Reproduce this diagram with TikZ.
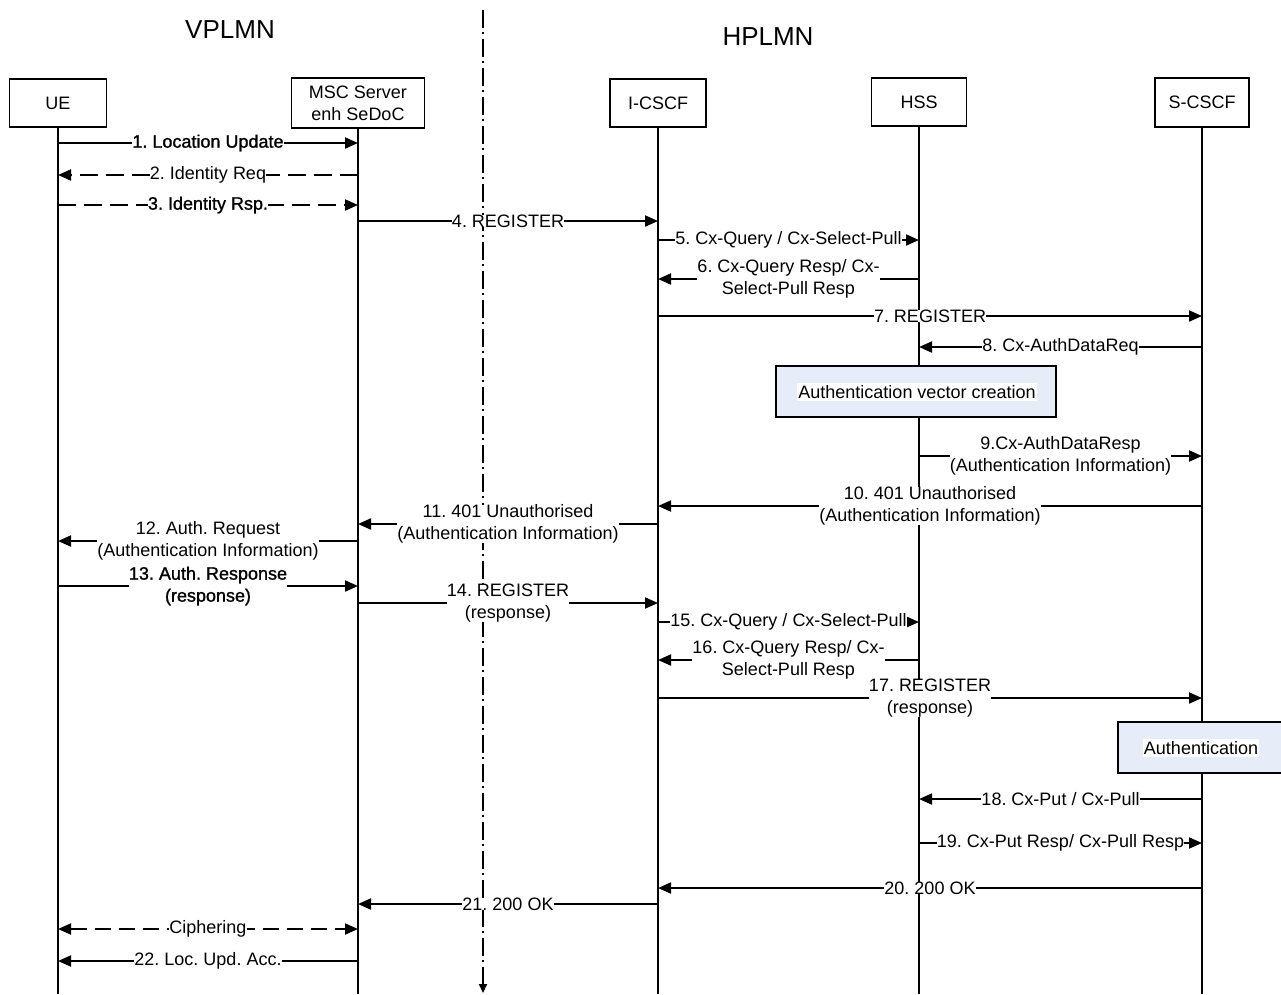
\documentclass[tikz,border=0pt]{standalone}
\usepackage{fontspec}
\setmainfont{Liberation Sans}
\newfontfamily\fbold[FakeBold=1.2]{Liberation Sans}
\usetikzlibrary{arrows.meta}
\definecolor{procfill}{RGB}{230,237,248}
\frenchspacing
\newcommand\Msg[7]{%
  \coordinate (#1s) at (#2 |- 0,#4);
  \coordinate (#1e) at (#3 |- 0,#4);
  \draw[#5] (#1s) -- node[#6] {#7} (#1e);
}
\begin{document}
\begin{tikzpicture}[x=1pt,y=-1pt,
  font=\fontsize{18}{22}\selectfont\frenchspacing,
  partbox/.style={draw, line width=1.8pt, inner sep=0pt, align=center},
  life/.style={line width=1.6pt},
  msgline/.style={line width=1.9pt, -{Triangle[length=13pt,width=11pt]}},
  dmsg/.style={msgline, dash pattern=on 18pt off 8pt},
  cmsg/.style={line width=1.9pt, dash pattern=on 16pt off 8pt,
     {Triangle[length=13pt,width=11pt]}-{Triangle[length=13pt,width=11pt]}},
  lbl/.style={fill=white, inner sep=0pt, align=center},
  blbl/.style={lbl, font=\fontsize{18}{22}\fbold\frenchspacing},
  divider/.style={line width=1.8pt, dash pattern=on 18pt off 4pt on 2pt off 5pt,
     -{Triangle[length=9pt,width=8pt]}},
  procbox/.style={draw, line width=1.8pt, fill=procfill, inner sep=0pt},
  proctext/.style={fill=white, inner xsep=1pt, inner ysep=2pt}
]
\useasboundingbox (0,0) rectangle (1281,994);

% region titles
\node[font=\fontsize{26}{30}\selectfont] (vplmn) at (230,30) {VPLMN};
\node[font=\fontsize{26}{30}\selectfont] (hplmn) at (768,37) {HPLMN};

% participants
\node[partbox, minimum width=97pt, minimum height=48pt] (ue) at (58,103) {UE};
\node[partbox, minimum width=133pt, minimum height=50pt] (msc) at (358,103) {MSC Server\\enh SeDoC};
\node[partbox, minimum width=96pt, minimum height=48pt] (icscf) at (658,103) {I-CSCF};
\node[partbox, minimum width=95pt, minimum height=48pt] (hss) at (919,102) {HSS};
\node[partbox, minimum width=94pt, minimum height=49pt] (scscf) at (1202,102.5) {S-CSCF};

% lifelines
\foreach \p in {ue,msc,icscf,hss,scscf}{
  \coordinate (\p end) at (\p |- 0,994);
  \draw[life] (\p.south) -- (\p end);
}

% divider
\coordinate (divtop) at (483,10);
\coordinate (divbot) at (483,993);
\draw[divider] (divtop) -- (divbot);

% process boxes
\node[procbox, minimum width=280pt, minimum height=51pt] (avc) at (916,391.5) {};
\node[proctext] (avct) at (917,392) {Authentication vector creation};
\fill[procfill] (1118,722) rectangle (1285,773);
\draw[line width=1.8pt] (1285,722) -- (1118,722) -- (1118,773) -- (1285,773);
\node[proctext] (autht) at (1201,748) {Authentication};

% messages
\Msg{m1}{ue}{msc}{143}{msgline}{blbl}{1. Location Update}
\Msg{m2}{msc}{ue}{175}{dmsg}{lbl}{2. Identity Req}
\Msg{m3}{ue}{msc}{205}{dmsg}{blbl}{3. Identity Rsp.}
\Msg{m4}{msc}{icscf}{221}{msgline}{lbl}{4. REGISTER}
\Msg{m5}{icscf}{hss}{240}{msgline}{lbl}{5. Cx-Query / Cx-Select-Pull}
\Msg{m6}{hss}{icscf}{279}{msgline}{lbl}{6. Cx-Query Resp/ Cx-\\Select-Pull Resp}
\Msg{m7}{icscf}{scscf}{316}{msgline}{lbl}{7. REGISTER}
\Msg{m8}{scscf}{hss}{347}{msgline}{lbl}{8. Cx-AuthDataReq}
\Msg{m9}{hss}{scscf}{456}{msgline}{lbl}{9.Cx-AuthDataResp\\(Authentication Information)}
\Msg{m10}{scscf}{icscf}{506}{msgline}{lbl}{10. 401 Unauthorised\\(Authentication Information)}
\Msg{m11}{icscf}{msc}{524}{msgline}{lbl}{11. 401 Unauthorised\\(Authentication Information)}
\Msg{m12}{msc}{ue}{541}{msgline}{lbl}{12. Auth. Request\\(Authentication Information)}
\Msg{m13}{ue}{msc}{586}{msgline}{blbl}{13. Auth. Response\\(response)}
\Msg{m14}{msc}{icscf}{603}{msgline}{lbl}{14. REGISTER\\(response)}
\Msg{m15}{icscf}{hss}{622}{msgline}{lbl}{15. Cx-Query / Cx-Select-Pull}
\Msg{m16}{hss}{icscf}{660}{msgline}{lbl}{16. Cx-Query Resp/ Cx-\\Select-Pull Resp}
\Msg{m17}{icscf}{scscf}{698}{msgline}{lbl}{17. REGISTER\\(response)}
\Msg{m18}{scscf}{hss}{799}{msgline}{lbl}{18. Cx-Put / Cx-Pull}
\Msg{m19}{hss}{scscf}{843}{msgline}{lbl}{19. Cx-Put Resp/ Cx-Pull Resp}
\Msg{m20}{scscf}{icscf}{888}{msgline}{lbl}{20. 200 OK}
\Msg{m21}{icscf}{msc}{904}{msgline}{lbl}{21. 200 OK}
\Msg{mc}{ue}{msc}{929}{cmsg}{lbl}{Ciphering}
\Msg{m22}{msc}{ue}{961}{msgline}{lbl}{22. Loc. Upd. Acc.}
\end{tikzpicture}
\end{document}
